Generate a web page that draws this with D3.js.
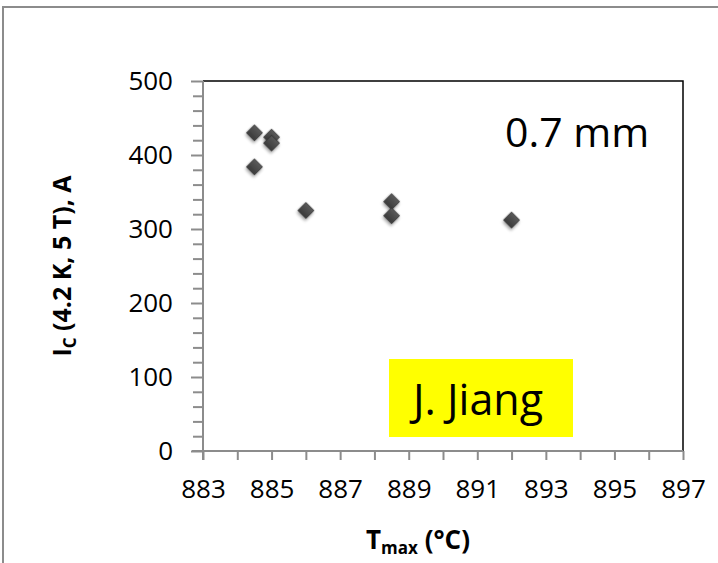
<!DOCTYPE html>
<html>
<head>
<meta charset="utf-8">
<script src="https://cdn.jsdelivr.net/npm/d3@7"></script>
<style>
  html, body { margin: 0; padding: 0; background: #fff; }
  svg { display: block; }
  text { font-family: "Open Sans", Lato, sans-serif; }
</style>
</head>
<body>
<script>
// Data
const tmax = [884.5, 884.5, 885, 885, 886, 888.5, 888.5, 892];
const ic   = [430, 384, 424, 416, 325, 337, 318, 312];
const xTickLabels = [883, 885, 887, 889, 891, 893, 895, 897];
const yTickLabels = [0, 100, 200, 300, 400, 500];
const annotation = "0.7 mm";
const author = "J. Jiang";

const W = 718, H = 563;
const svg = d3.select("body").append("svg").attr("width", W).attr("height", H);

// outer chart border
svg.append("rect").attr("x", 3).attr("y", 7).attr("width", W + 10).attr("height", H + 10)
  .attr("fill", "#fff").attr("stroke", "#8c8c8c").attr("stroke-width", 2);

const plot = { left: 203, right: 683, top: 81, bottom: 451 };
const x = d3.scaleLinear().domain([883, 897]).range([plot.left, plot.right]);
const y = d3.scaleLinear().domain([0, 500]).range([plot.bottom, plot.top]);

// plot frame (top and right black)
svg.append("path")
  .attr("d", `M${plot.left},${plot.top}H${plot.right}V${plot.bottom}`)
  .attr("fill", "none").attr("stroke", "#000").attr("stroke-width", 1.5);

// x axis
const xAxis = d3.axisBottom(x).tickValues(d3.range(883, 898, 1)).tickSize(9)
  .tickFormat(d => xTickLabels.includes(d) ? d : "").tickPadding(20);
const gx = svg.append("g").attr("transform", `translate(0,${plot.bottom})`).call(xAxis);
gx.select(".domain").attr("stroke", "#8c8c8c").attr("stroke-width", 2)
  .attr("d", `M${plot.left - 11},0H${plot.right}`);
gx.selectAll(".tick line").attr("stroke", "#8c8c8c").attr("stroke-width", 2);
gx.selectAll(".tick text").attr("font-size", 26).attr("fill", "#000")
  .attr("font-family", "'Open Sans', sans-serif");

// y axis
const yAxis = d3.axisLeft(y).tickValues(d3.range(0, 501, 20)).tickSize(10)
  .tickFormat(d => yTickLabels.includes(d) ? d : "").tickPadding(20);
const gy = svg.append("g").attr("transform", `translate(${plot.left},0)`).call(yAxis);
gy.select(".domain").attr("stroke", "#8c8c8c").attr("stroke-width", 2)
  .attr("d", `M0,${plot.bottom + 9}V${plot.top}`);
gy.selectAll(".tick line").attr("stroke", "#8c8c8c").attr("stroke-width", 2);
gy.selectAll(".tick text").attr("font-size", 26).attr("fill", "#000")
  .attr("font-family", "'Open Sans', sans-serif");
gy.selectAll(".tick").filter(d => yTickLabels.includes(d)).select("line").attr("x2", -12);

// gradient for markers
const defs = svg.append("defs");
const grad = defs.append("linearGradient").attr("id", "mk").attr("x1", 0).attr("y1", 0).attr("x2", 0).attr("y2", 1);
grad.append("stop").attr("offset", "0%").attr("stop-color", "#5a5a5a");
grad.append("stop").attr("offset", "50%").attr("stop-color", "#4a4a4a");
grad.append("stop").attr("offset", "100%").attr("stop-color", "#3a3a3a");
const flt = defs.append("filter").attr("id", "sh").attr("x", "-50%").attr("y", "-50%").attr("width", "200%").attr("height", "200%");
flt.append("feDropShadow").attr("dx", 1).attr("dy", 2).attr("stdDeviation", 1.5).attr("flood-color", "#000").attr("flood-opacity", 0.35);

const pts = tmax.map((t, i) => ({ t, v: ic[i] }));
const sym = d3.symbol().type(d3.symbolSquare).size(128);
svg.append("g").selectAll("path").data(pts).join("path")
  .attr("d", sym)
  .attr("transform", d => `translate(${x(d.t)},${y(d.v)}) rotate(45)`)
  .attr("fill", "url(#mk)").attr("stroke", "#333").attr("stroke-width", 0.8)
  .attr("filter", "url(#sh)");

// Y label
const yl = svg.append("text")
  .attr("transform", `translate(71,${(plot.top + plot.bottom) / 2}) rotate(-90)`)
  .attr("text-anchor", "middle").attr("font-size", 25).attr("font-weight", "bold").attr("fill", "#000");
yl.append("tspan").text("I");
yl.append("tspan").attr("font-size", 17).attr("dy", 5).text("C");
yl.append("tspan").attr("dy", -5).text(" (4.2 K, 5 T), A");

// X label
const xl = svg.append("text")
  .attr("x", 418).attr("y", 549)
  .attr("text-anchor", "middle").attr("font-size", 26).attr("font-weight", "bold").attr("fill", "#000");
xl.append("tspan").text("T");
xl.append("tspan").attr("font-size", 17).attr("dy", 5).text("max");
xl.append("tspan").attr("dy", -5).text(" (°C)");

// annotation
svg.append("text").attr("x", 505).attr("y", 147).attr("font-size", 41).attr("fill", "#000").text(annotation);

// author box
svg.append("rect").attr("x", 389).attr("y", 359).attr("width", 184).attr("height", 78).attr("fill", "#ffff00");
svg.append("text").attr("x", 478).attr("y", 415).attr("text-anchor", "middle")
  .attr("font-size", 43).attr("fill", "#000").text(author);
</script>
</body>
</html>
